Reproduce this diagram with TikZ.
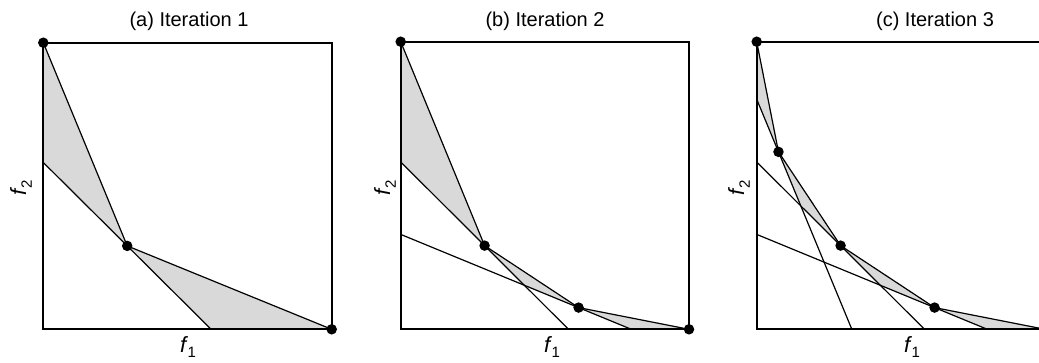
\documentclass[tikz,border=0pt]{standalone}
\usepackage{fontspec}
\setmainfont{Liberation Sans}
\definecolor{shadegray}{RGB}{217,217,217}
\tikzset{
  boxline/.style={line width=2.1pt},
  chord/.style={line width=1.2pt},
  shaded/.style={fill=shadegray},
  dot/.style={circle, fill=black, inner sep=0pt, minimum size=10.5pt},
  titletext/.style={font=\fontsize{20}{22}\selectfont, anchor=base, inner sep=0pt},
  axlabel/.style={font=\fontsize{22}{24}\selectfont, inner sep=0pt}
}
\newcommand{\axname}[1]{\textit{f}\kern-0.02em\raisebox{-0.26em}{\fontsize{15}{16}\selectfont #1}}
\begin{document}
\begin{tikzpicture}[x=1pt,y=-1pt]
\useasboundingbox (0,0) rectangle (1039,362);
\clip (0,0) rectangle (1039,362);

% ---------- panel (a) ----------
\begin{scope}[shift={(43.3,329.3)}, x=288.4pt, y=286.6pt]
  \coordinate (aO) at (0,0);
  \coordinate (aT) at (1,1);
  \coordinate (aA) at (0,1);
  \coordinate (aB) at (0.291,0.291);
  \coordinate (aC) at (1,0);
  \coordinate (aL1s) at (0,0.582);
  \coordinate (aL1e) at (0.582,0);
  \fill[shaded] (aA) -- (aL1s) -- (aB) -- cycle;
  \fill[shaded] (aB) -- (aL1e) -- (aC) -- cycle;
  \draw[chord] (aL1s) -- (aL1e);
  \draw[chord] (aA) -- (aB) -- (aC);
  \draw[boxline] (aO) rectangle (aT);
  \node[dot] (adA) at (aA) {};
  \node[dot] (adB) at (aB) {};
  \node[dot] (adC) at (aC) {};
\end{scope}

% ---------- panel (b) ----------
\begin{scope}[shift={(400.7,329.3)}, x=288.3pt, y=287.6pt]
  \coordinate (bO) at (0,0);
  \coordinate (bT) at (1,1);
  \coordinate (bA) at (0,1);
  \coordinate (bB) at (0.291,0.291);
  \coordinate (bD) at (0.617,0.0755);
  \coordinate (bC) at (1,0);
  \coordinate (bL1s) at (0,0.582);
  \coordinate (bL1e) at (0.582,0);
  \coordinate (bL2s) at (0,0.33);
  \coordinate (bL2e) at (0.80,0);
  \coordinate (bX2) at (0.4289,0.1531);
  \fill[shaded] (bA) -- (bL1s) -- (bB) -- cycle;
  \fill[shaded] (bB) -- (bX2) -- (bD) -- cycle;
  \fill[shaded] (bD) -- (bL2e) -- (bC) -- cycle;
  \draw[chord] (bL1s) -- (bL1e);
  \draw[chord] (bL2s) -- (bL2e);
  \draw[chord] (bA) -- (bB) -- (bD) -- (bC);
  \draw[boxline] (bO) rectangle (bT);
  \node[dot] (bdA) at (bA) {};
  \node[dot] (bdB) at (bB) {};
  \node[dot] (bdD) at (bD) {};
  \node[dot] (bdC) at (bC) {};
\end{scope}

% ---------- panel (c) ----------
\begin{scope}[shift={(756.7,329.3)}, x=288.3pt, y=287.6pt]
  \coordinate (cO) at (0,0);
  \coordinate (cT) at (1,1);
  \coordinate (cA) at (0,1);
  \coordinate (cP) at (0.0755,0.617);
  \coordinate (cB) at (0.291,0.291);
  \coordinate (cD) at (0.617,0.0755);
  \coordinate (cC) at (1,0);
  \coordinate (cL1s) at (0,0.582);
  \coordinate (cL1e) at (0.582,0);
  \coordinate (cL2s) at (0,0.33);
  \coordinate (cL2e) at (0.80,0);
  \coordinate (cL3s) at (0,0.80);
  \coordinate (cL3e) at (0.33,0);
  \coordinate (cX1) at (0.1531,0.4289);
  \coordinate (cX2) at (0.4289,0.1531);
  \fill[shaded] (cA) -- (cL3s) -- (cP) -- cycle;
  \fill[shaded] (cP) -- (cX1) -- (cB) -- cycle;
  \fill[shaded] (cB) -- (cX2) -- (cD) -- cycle;
  \fill[shaded] (cD) -- (cL2e) -- (cC) -- cycle;
  \draw[chord] (cL1s) -- (cL1e);
  \draw[chord] (cL2s) -- (cL2e);
  \draw[chord] (cL3s) -- (cL3e);
  \draw[chord] (cA) -- (cP) -- (cB) -- (cD) -- (cC);
  \draw[boxline] (cO) rectangle (cT);
  \node[dot] (cdA) at (cA) {};
  \node[dot] (cdP) at (cP) {};
  \node[dot] (cdB) at (cB) {};
  \node[dot] (cdD) at (cD) {};
  \node[dot] (cdC) at (cC) {};
\end{scope}

% ---------- titles and axis labels ----------
\node[titletext] (ta) at (189,26) {(a) Iteration 1};
\node[titletext] (tb) at (545,26) {(b) Iteration 2};
\node[titletext] (tc) at (935,26) {(c) Iteration 3};

\node[axlabel, anchor=base] (xa) at (188,352) {\axname{1}};
\node[axlabel, anchor=base] (xb) at (552,352) {\axname{1}};
\node[axlabel, anchor=base] (xc) at (912,352) {\axname{1}};

\node[axlabel, rotate=90] (ya) at (21,188) {\axname{2}};
\node[axlabel, rotate=90] (yb) at (385,188) {\axname{2}};
\node[axlabel, rotate=90] (yc) at (739,188) {\axname{2}};
\end{tikzpicture}
\end{document}
